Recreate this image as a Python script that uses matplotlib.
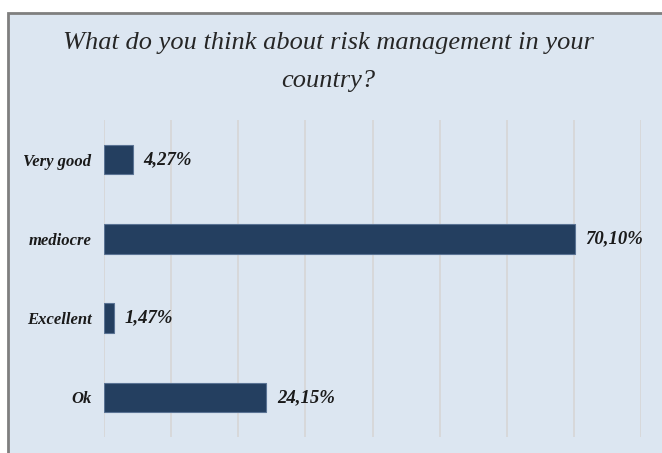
import numpy as np
import matplotlib.pyplot as plt
from matplotlib.patches import Rectangle

categories = ['Very good', 'mediocre', 'Excellent', 'Ok']
values = [4.27, 70.10, 1.47, 24.15]
value_labels = ['4,27%', '70,10%', '1,47%', '24,15%']

serif = ['Liberation Serif', 'DejaVu Serif']
bar_color = '#243f60'
panel_color = '#dce6f1'

fig = plt.figure(figsize=(6.62, 4.53), dpi=100)
fig.patch.set_facecolor('white')

# chart panel with grey frame, running off the right and bottom edges
panel = Rectangle((8 / 662, -0.05), 1.1, 1 - 13 / 453 + 0.05,
                  transform=fig.transFigure, facecolor=panel_color,
                  edgecolor='#7f7f7f', linewidth=2, zorder=-5)
fig.patches.append(panel)

fig.text(328 / 662, 1 - 62 / 453,
         'What do you think about risk management in your\ncountry?',
         ha='center', va='center', fontsize=19, style='italic',
         family=serif, color='#262626', linespacing=2.0)

ax = fig.add_axes([104 / 662, 1 - 437 / 453, (641 - 104) / 662, (437 - 120) / 453])
ax.set_facecolor('none')
ax.set_zorder(2)

y = np.arange(len(categories))
ax.barh(y, values, height=0.37, color=bar_color, edgecolor='#5a7394',
        linewidth=0.8, zorder=3)

for yi, v, lab in zip(y, values, value_labels):
    ax.text(v + 1.6, yi, lab, va='center', ha='left', fontsize=13.5,
            fontweight='bold', style='italic', family=serif, color='#1a1a1a')

ax.set_xlim(0, 80)
ax.set_ylim(len(categories) - 0.5, -0.5)
ax.set_xticks(np.arange(0, 81, 10))
ax.xaxis.grid(True, color='#d6d6d6', linewidth=1.2, zorder=0)
ax.tick_params(axis='x', length=0, labelbottom=False)
ax.tick_params(axis='y', length=0, pad=9)
ax.set_yticks(y)
ax.set_yticklabels(categories, fontsize=12, fontweight='bold', style='italic',
                   family=serif, color='#1a1a1a')
for s in ax.spines.values():
    s.set_visible(False)

fig.savefig('out.png', dpi=100, facecolor='white')
